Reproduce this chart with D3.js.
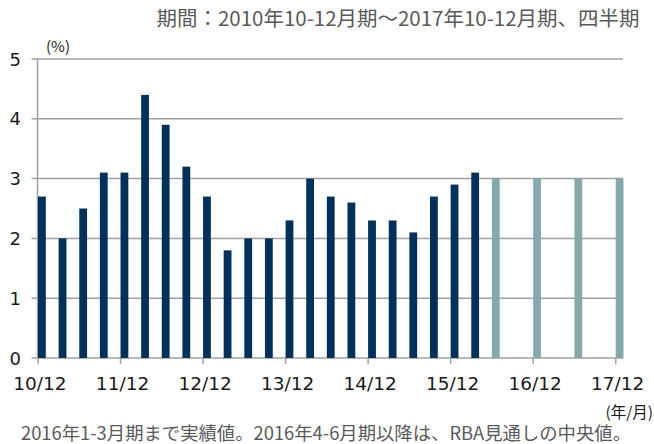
<!DOCTYPE html>
<html>
<head>
<meta charset="utf-8">
<script src="https://cdn.jsdelivr.net/npm/d3@7"></script>
<style>
    body { margin: 0; background: #ffffff; }
    svg { display: block; }
    .jp { font-family: "Noto Sans CJK JP", "Noto Sans", sans-serif; fill: #595959; }
    .num { font-family: "DejaVu Sans", Verdana, sans-serif; fill: #1a1a1a; }
</style>
</head>
<body>
<svg id="chart" width="654" height="444"></svg>
<script>
// Actual CPI (y/y, %) by quarter, 2010 Oct-Dec .. 2016 Jan-Mar
const actualValues = [2.7, 2.0, 2.5, 3.1, 3.1, 4.4, 3.9, 3.2, 2.7, 1.8, 2.0, 2.0,
    2.3, 3.0, 2.7, 2.6, 2.3, 2.3, 2.1, 2.7, 2.9, 3.1];

// RBA forecast midpoints (quarter index counted from 2010 Oct-Dec)
const forecastQuarters = [22, 24, 26, 28];
const forecastValues = [3.0, 3.0, 3.0, 3.0];

const yearLabels = ["10/12", "11/12", "12/12", "13/12", "14/12", "15/12", "16/12", "17/12"];
const yTicks = [0, 1, 2, 3, 4, 5];

const titleText = "期間：2010年10-12月期～2017年10-12月期、四半期";
const noteText = "2016年1-3月期まで実績値。2016年4-6月期以降は、RBA見通しの中央値。";

const box = { left: 37.5, right: 623, top: 59, bottom: 358 };
const barWidth = 7.8;

const svg = d3.select("#chart");

const x = d3.scaleLinear()
    .domain([0, 28])
    .range([box.left + 0.5, 615.7]);

const y = d3.scaleLinear()
    .domain([0, 5])
    .range([box.bottom, box.top]);

// horizontal grid lines, with the little tick stubs left of the axis
svg.append("g")
    .selectAll("line")
    .data(yTicks)
    .join("line")
    .attr("x1", box.left - 6)
    .attr("x2", box.right)
    .attr("y1", d => y(d))
    .attr("y2", d => y(d))
    .attr("stroke", "#a0a0a0")
    .attr("stroke-width", 1.5);

svg.append("line")
    .attr("x1", box.left)
    .attr("x2", box.left)
    .attr("y1", box.top)
    .attr("y2", box.bottom)
    .attr("stroke", "#a0a0a0")
    .attr("stroke-width", 1.5);

svg.append("g")
    .selectAll("text")
    .data(yTicks)
    .join("text")
    .attr("class", "num")
    .attr("x", 21)
    .attr("y", d => y(d) + 6.5)
    .attr("text-anchor", "end")
    .attr("font-size", 18)
    .text(d => d);

// bars
svg.append("g")
    .selectAll("rect")
    .data(actualValues)
    .join("rect")
    .attr("x", (d, i) => x(i))
    .attr("width", barWidth)
    .attr("y", d => y(d))
    .attr("height", d => y(0) - y(d))
    .attr("fill", "#00315a");

svg.append("g")
    .selectAll("rect")
    .data(forecastValues)
    .join("rect")
    .attr("x", (d, i) => x(forecastQuarters[i]))
    .attr("width", barWidth)
    .attr("y", d => y(d))
    .attr("height", d => y(0) - y(d))
    .attr("fill", "#82aaad");

// x axis ticks and labels, one per year
svg.append("g")
    .selectAll("line")
    .data(yearLabels)
    .join("line")
    .attr("x1", (d, i) => x(i * 4))
    .attr("x2", (d, i) => x(i * 4))
    .attr("y1", box.bottom)
    .attr("y2", box.bottom + 6)
    .attr("stroke", "#a0a0a0")
    .attr("stroke-width", 1.5);

svg.append("g")
    .selectAll("text")
    .data(yearLabels)
    .join("text")
    .attr("class", "num")
    .attr("x", (d, i) => x(i * 4) + 2)
    .attr("y", 390)
    .attr("text-anchor", "middle")
    .attr("font-size", 18.5)
    .text(d => d);

// texts
svg.append("text")
    .attr("class", "jp")
    .attr("x", 398)
    .attr("y", 26)
    .attr("text-anchor", "middle")
    .attr("font-size", 20)
    .attr("textLength", 483)
    .attr("lengthAdjust", "spacingAndGlyphs")
    .text(titleText);

svg.append("text")
    .attr("class", "jp")
    .attr("x", 58)
    .attr("y", 52)
    .attr("text-anchor", "middle")
    .attr("font-size", 15)
    .style("fill", "#1a1a1a")
    .text("(%)");

svg.append("text")
    .attr("class", "jp")
    .attr("x", 653)
    .attr("y", 418)
    .attr("text-anchor", "end")
    .attr("font-size", 15.5)
    .style("fill", "#1a1a1a")
    .text("(年/月)");

svg.append("text")
    .attr("class", "jp")
    .attr("x", 326)
    .attr("y", 440)
    .attr("text-anchor", "middle")
    .attr("font-size", 18)
    .attr("textLength", 610)
    .attr("lengthAdjust", "spacingAndGlyphs")
    .text(noteText);
</script>
</body>
</html>
